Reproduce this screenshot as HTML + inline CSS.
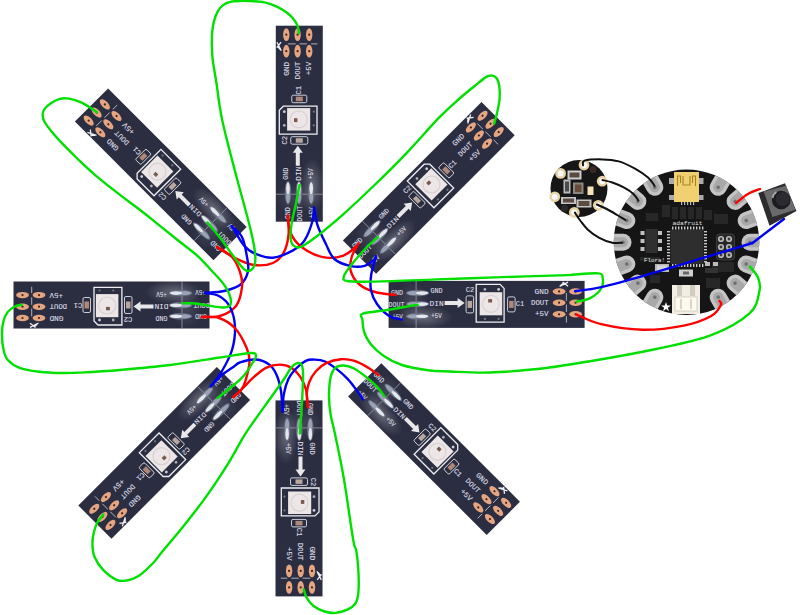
<!DOCTYPE html>
<html><head><meta charset="utf-8">
<style>
html,body{margin:0;padding:0;background:#fff;}
svg{display:block;}
</style></head>
<body>
<svg width="800" height="615" viewBox="0 0 800 615" font-family="Liberation Sans, sans-serif">
<defs>
<radialGradient id="glare">
<stop offset="0" stop-color="#ffffff" stop-opacity="0.28"/>
<stop offset="1" stop-color="#ffffff" stop-opacity="0"/>
</radialGradient>
<radialGradient id="glare2">
<stop offset="0" stop-color="#ffffff" stop-opacity="0.12"/>
<stop offset="1" stop-color="#ffffff" stop-opacity="0"/>
</radialGradient>
<g id="strip">
<rect x="-23.5" y="-98" width="47" height="196" fill="#2b2e41"/>
<ellipse cx="13" cy="62" rx="12" ry="28" fill="url(#glare)"/>
<ellipse cx="-4" cy="75" rx="20" ry="16" fill="url(#glare2)"/>
<ellipse cx="-13" cy="-89" rx="3.2" ry="6.4" fill="#e6a581"/>
<circle cx="-13" cy="-89" r="1.1" fill="#3a2420"/>
<ellipse cx="-13" cy="-72.5" rx="3.2" ry="6.4" fill="#e6a581"/>
<circle cx="-13" cy="-72.5" r="1.1" fill="#3a2420"/>
<ellipse cx="-1.7" cy="-89" rx="3.2" ry="6.4" fill="#e6a581"/>
<circle cx="-1.7" cy="-89" r="1.1" fill="#3a2420"/>
<ellipse cx="-1.7" cy="-72.5" rx="3.2" ry="6.4" fill="#e6a581"/>
<circle cx="-1.7" cy="-72.5" r="1.1" fill="#3a2420"/>
<ellipse cx="9.9" cy="-89" rx="3.2" ry="6.4" fill="#e6a581"/>
<circle cx="9.9" cy="-89" r="1.1" fill="#3a2420"/>
<ellipse cx="9.9" cy="-72.5" rx="3.2" ry="6.4" fill="#e6a581"/>
<circle cx="9.9" cy="-72.5" r="1.1" fill="#3a2420"/>
<path d="M-11.4,-79.8 H-3.6 M0.2,-79.8 H7.6 M11.8,-79.8 H18.2" stroke="#d0d0dc" stroke-width="0.8"/>
<path d="M-22.3,-81.5 L-18,-73 M-18.2,-81.5 L-22.5,-76 M-21.5,-77 l2.5,3" stroke="#f0f0f4" stroke-width="1.3" fill="none"/>
<text transform="translate(-12.8,-62) rotate(-90)" text-anchor="end" dominant-baseline="central" font-family="Liberation Mono, monospace" font-size="7.5" fill="#dcdce4" stroke="#dcdce4" stroke-width="0.12" textLength="14" lengthAdjust="spacingAndGlyphs">GND</text>
<text transform="translate(-1.3,-62) rotate(-90)" text-anchor="end" dominant-baseline="central" font-family="Liberation Mono, monospace" font-size="7.5" fill="#dcdce4" stroke="#dcdce4" stroke-width="0.12" textLength="17.5" lengthAdjust="spacingAndGlyphs">DOUT</text>
<text transform="translate(9.9,-62) rotate(-90)" text-anchor="end" dominant-baseline="central" font-family="Liberation Mono, monospace" font-size="7.5" fill="#dcdce4" stroke="#dcdce4" stroke-width="0.12" textLength="13.5" lengthAdjust="spacingAndGlyphs">+5V</text>
<text transform="translate(0,-33.5) rotate(-90)" text-anchor="middle" dominant-baseline="central" font-family="Liberation Mono, monospace" font-size="7" fill="#dcdce4" stroke="#dcdce4" stroke-width="0.12" textLength="8.5" lengthAdjust="spacingAndGlyphs">C1</text>
<rect x="-7.5" y="-28.5" width="15" height="7.5" rx="1.5" fill="none" stroke="#e0e0e6" stroke-width="0.9"/>
<rect x="-3.5" y="-27" width="7" height="4.5" fill="#b08878"/>
<path d="M-16,-17.5 H17.7 V10.4 H-20 V-13.5 Z" fill="none" stroke="#eeeef2" stroke-width="1.3"/>
<rect x="-12.2" y="-15.6" width="23.1" height="22.5" fill="#ece6e6"/>
<circle cx="-0.5" cy="-4.3" r="8.5" fill="none" stroke="#d8d0d4" stroke-width="1.2"/>
<rect x="-5.3" y="-5.5" width="3.4" height="3.9" fill="#7a5a50"/>
<circle cx="-15" cy="-12" r="1.4" fill="#d0d0d8"/><circle cx="-15" cy="1.7" r="1.4" fill="#b0b0b8"/>
<circle cx="14.5" cy="-12" r="1.1" fill="#777"/><circle cx="14.5" cy="1.7" r="1.1" fill="#777"/>
<text transform="translate(-14,16.5) rotate(-90)" text-anchor="middle" dominant-baseline="central" font-family="Liberation Mono, monospace" font-size="7" fill="#dcdce4" stroke="#dcdce4" stroke-width="0.12" textLength="8.5" lengthAdjust="spacingAndGlyphs">C2</text>
<rect x="-8.5" y="13" width="17" height="7.5" rx="1.5" fill="none" stroke="#e0e0e6" stroke-width="0.9"/>
<rect x="-3.5" y="14.5" width="7" height="4.5" fill="#b8a8a0"/>
<path d="M-1.5,22 L3.5,29 H0.5 V42 H-3.5 V29 H-6.5 Z" fill="#e8e8ea"/>
<text transform="translate(-13.3,50) rotate(-90)" text-anchor="middle" dominant-baseline="central" font-family="Liberation Mono, monospace" font-size="7" fill="#dcdce4" stroke="#dcdce4" stroke-width="0.12" textLength="12" lengthAdjust="spacingAndGlyphs">GND</text>
<text transform="translate(-0.8,50) rotate(-90)" text-anchor="middle" dominant-baseline="central" font-family="Liberation Mono, monospace" font-size="7" fill="#dcdce4" stroke="#dcdce4" stroke-width="0.12" textLength="14" lengthAdjust="spacingAndGlyphs">DIN</text>
<text transform="translate(11.4,50) rotate(-90)" text-anchor="middle" dominant-baseline="central" font-family="Liberation Mono, monospace" font-size="7" fill="#dcdce4" stroke="#dcdce4" stroke-width="0.12" textLength="10.5" lengthAdjust="spacingAndGlyphs">+5V</text>
<path d="M-23.5,70.5 H23.5" stroke="#9a9ca6" stroke-width="0.8"/>
<ellipse cx="-11.3" cy="69" rx="3.2" ry="11.8" fill="#6a7084"/>
<ellipse cx="-11.3" cy="73" rx="2.0" ry="6.5" fill="#9aa2b6"/>
<ellipse cx="-11.3" cy="64.5" rx="1.8" ry="6" fill="#e4e8ee"/>
<ellipse cx="-0.3" cy="69" rx="3.2" ry="11.8" fill="#6a7084"/>
<ellipse cx="-0.3" cy="73" rx="2.0" ry="6.5" fill="#9aa2b6"/>
<ellipse cx="-0.3" cy="64.5" rx="1.8" ry="6" fill="#e4e8ee"/>
<ellipse cx="11.9" cy="69" rx="3.2" ry="11.8" fill="#6a7084"/>
<ellipse cx="11.9" cy="73" rx="2.0" ry="6.5" fill="#9aa2b6"/>
<ellipse cx="11.9" cy="64.5" rx="1.8" ry="6" fill="#e4e8ee"/>
<text transform="translate(-11.3,89.5) rotate(-90)" text-anchor="middle" dominant-baseline="central" font-family="Liberation Mono, monospace" font-size="7.5" fill="#dcdce4" stroke="#dcdce4" stroke-width="0.12" textLength="12" lengthAdjust="spacingAndGlyphs">GND</text>
<text transform="translate(0.3,90) rotate(-90)" text-anchor="middle" dominant-baseline="central" font-family="Liberation Mono, monospace" font-size="7.5" fill="#dcdce4" stroke="#dcdce4" stroke-width="0.12" textLength="16" lengthAdjust="spacingAndGlyphs">DOUT</text>
<text transform="translate(13,89) rotate(-90)" text-anchor="middle" dominant-baseline="central" font-family="Liberation Mono, monospace" font-size="7.5" fill="#dcdce4" stroke="#dcdce4" stroke-width="0.12" textLength="10.5" lengthAdjust="spacingAndGlyphs">+5V</text>
</g>
</defs>
<rect width="800" height="615" fill="#ffffff"/>
<use href="#strip" transform="translate(299.3,123.7) rotate(0)"/>
<use href="#strip" transform="translate(160.8,174.3) rotate(-45)"/>
<use href="#strip" transform="translate(111.5,305.0) rotate(-90)"/>
<use href="#strip" transform="translate(164.2,452.8) rotate(-135)"/>
<use href="#strip" transform="translate(299.0,498.4) rotate(180)"/>
<use href="#strip" transform="translate(434.0,449.1) rotate(135)"/>
<use href="#strip" transform="translate(486.6,304.4) rotate(90)"/>
<use href="#strip" transform="translate(428.8,187.9) rotate(45)"/>
<circle cx="579" cy="188.5" r="28.5" fill="#161616"/>
<circle cx="593" cy="169.5" r="3.5" fill="#3a2a22"/><circle cx="564.5" cy="208" r="3.5" fill="#2a2a2a"/>
<circle cx="584" cy="165" r="5.4" fill="#e6d4a8"/><circle cx="584" cy="165" r="2.9" fill="#fff"/>
<circle cx="560.6" cy="173.4" r="5.4" fill="#e6d4a8"/><circle cx="560.6" cy="173.4" r="2.9" fill="#fff"/>
<circle cx="602.2" cy="181.2" r="5.4" fill="#e6d4a8"/><circle cx="602.2" cy="181.2" r="2.9" fill="#fff"/>
<circle cx="554.75" cy="196.8" r="5.4" fill="#e6d4a8"/><circle cx="554.75" cy="196.8" r="2.9" fill="#fff"/>
<circle cx="598.3" cy="205.3" r="5.4" fill="#e6d4a8"/><circle cx="598.3" cy="205.3" r="2.9" fill="#fff"/>
<circle cx="574.3" cy="212.4" r="5.4" fill="#e6d4a8"/><circle cx="574.3" cy="212.4" r="2.9" fill="#fff"/>
<rect x="567.5" y="170.5" width="14" height="9" fill="#cfcfcf"/><rect x="569.5" y="172.5" width="10" height="5" fill="#5a4a40"/>
<rect x="563.5" y="179.5" width="7" height="14" fill="#bbb"/><rect x="565" y="181.5" width="4" height="10" fill="#4a4a4a"/>
<rect x="573" y="182.5" width="10.5" height="11.5" fill="#8a8a80"/><rect x="575" y="184.5" width="6.5" height="7.5" fill="#6a4a38"/>
<rect x="587.5" y="186.5" width="6" height="8.5" fill="#f6e4b8"/>
<rect x="561" y="197" width="15" height="7" fill="#c4c4c4"/><rect x="563" y="198.5" width="11" height="4" fill="#5a4a40"/>
<rect x="576.5" y="199.5" width="15" height="8" fill="#c4c4c4"/><rect x="578.5" y="201" width="11" height="5" fill="#5a4a40"/>
<circle cx="686.5" cy="242.25" r="72.75" fill="#151515"/>
<g fill="#2a2a2a" opacity="0.9"><rect x="662" y="205" width="8" height="12"/><rect x="672" y="207" width="6" height="12"/><rect x="680" y="207" width="6" height="12"/><rect x="688" y="207" width="6" height="12"/><rect x="696" y="207" width="6" height="12"/><rect x="704" y="210" width="8" height="10"/><rect x="646" y="213" width="12" height="8"/><rect x="714" y="214" width="14" height="10"/><rect x="650" y="275" width="10" height="8"/><rect x="706" y="278" width="14" height="10"/><rect x="640" y="257" width="20" height="4"/><rect x="712" y="262" width="22" height="10"/></g>
<clipPath id="fclip"><circle cx="686.5" cy="242.25" r="72.75"/></clipPath>
<g clip-path="url(#fclip)">
<g transform="translate(750.0,242.2) rotate(0)"><rect x="-8.5" y="-8.5" width="30" height="17" rx="8.5" fill="#c4c4c4"/><rect x="-5" y="-5" width="26" height="10" rx="5" fill="#a8a8a8"/><circle cx="0" cy="0" r="1.8" fill="#707070"/></g>
<g transform="translate(746.2,264.0) rotate(20)"><rect x="-8.5" y="-8.5" width="30" height="17" rx="8.5" fill="#c4c4c4"/><rect x="-5" y="-5" width="26" height="10" rx="5" fill="#a8a8a8"/><circle cx="0" cy="0" r="1.8" fill="#707070"/></g>
<g transform="translate(735.1,283.1) rotate(40)"><rect x="-8.5" y="-8.5" width="30" height="17" rx="8.5" fill="#c4c4c4"/><rect x="-5" y="-5" width="26" height="10" rx="5" fill="#a8a8a8"/><circle cx="0" cy="0" r="1.8" fill="#707070"/></g>
<g transform="translate(718.2,297.2) rotate(60)"><rect x="-8.5" y="-8.5" width="30" height="17" rx="8.5" fill="#c4c4c4"/><rect x="-5" y="-5" width="26" height="10" rx="5" fill="#a8a8a8"/><circle cx="0" cy="0" r="1.8" fill="#707070"/></g>
<g transform="translate(746.2,220.5) rotate(-20)"><rect x="-8.5" y="-8.5" width="30" height="17" rx="8.5" fill="#c4c4c4"/><rect x="-5" y="-5" width="26" height="10" rx="5" fill="#a8a8a8"/><circle cx="0" cy="0" r="1.8" fill="#707070"/></g>
<g transform="translate(735.1,201.4) rotate(-40)"><rect x="-8.5" y="-8.5" width="30" height="17" rx="8.5" fill="#c4c4c4"/><rect x="-5" y="-5" width="26" height="10" rx="5" fill="#a8a8a8"/><circle cx="0" cy="0" r="1.8" fill="#707070"/></g>
<g transform="translate(718.2,187.3) rotate(-60)"><rect x="-8.5" y="-8.5" width="30" height="17" rx="8.5" fill="#c4c4c4"/><rect x="-5" y="-5" width="26" height="10" rx="5" fill="#a8a8a8"/><circle cx="0" cy="0" r="1.8" fill="#707070"/></g>
<g transform="translate(623.0,242.2) rotate(180)"><rect x="-8.5" y="-8.5" width="30" height="17" rx="8.5" fill="#c4c4c4"/><rect x="-5" y="-5" width="26" height="10" rx="5" fill="#a8a8a8"/><circle cx="0" cy="0" r="1.8" fill="#707070"/></g>
<g transform="translate(626.8,264.0) rotate(160)"><rect x="-8.5" y="-8.5" width="30" height="17" rx="8.5" fill="#c4c4c4"/><rect x="-5" y="-5" width="26" height="10" rx="5" fill="#a8a8a8"/><circle cx="0" cy="0" r="1.8" fill="#707070"/></g>
<g transform="translate(637.9,283.1) rotate(140)"><rect x="-8.5" y="-8.5" width="30" height="17" rx="8.5" fill="#c4c4c4"/><rect x="-5" y="-5" width="26" height="10" rx="5" fill="#a8a8a8"/><circle cx="0" cy="0" r="1.8" fill="#707070"/></g>
<g transform="translate(654.8,297.2) rotate(120)"><rect x="-8.5" y="-8.5" width="30" height="17" rx="8.5" fill="#c4c4c4"/><rect x="-5" y="-5" width="26" height="10" rx="5" fill="#a8a8a8"/><circle cx="0" cy="0" r="1.8" fill="#707070"/></g>
<g transform="translate(626.8,220.5) rotate(-160)"><rect x="-8.5" y="-8.5" width="30" height="17" rx="8.5" fill="#c4c4c4"/><rect x="-5" y="-5" width="26" height="10" rx="5" fill="#a8a8a8"/><circle cx="0" cy="0" r="1.8" fill="#707070"/></g>
<g transform="translate(637.9,201.4) rotate(-140)"><rect x="-8.5" y="-8.5" width="30" height="17" rx="8.5" fill="#c4c4c4"/><rect x="-5" y="-5" width="26" height="10" rx="5" fill="#a8a8a8"/><circle cx="0" cy="0" r="1.8" fill="#707070"/></g>
<g transform="translate(654.8,187.3) rotate(-120)"><rect x="-8.5" y="-8.5" width="30" height="17" rx="8.5" fill="#c4c4c4"/><rect x="-5" y="-5" width="26" height="10" rx="5" fill="#a8a8a8"/><circle cx="0" cy="0" r="1.8" fill="#707070"/></g>
</g>
<rect x="669" y="178" width="5" height="6" fill="#aaa"/><rect x="669" y="195" width="5" height="5" fill="#aaa"/><rect x="698.5" y="178" width="5" height="6" fill="#aaa"/><rect x="698.5" y="195" width="5" height="5" fill="#aaa"/>
<rect x="674" y="172" width="25" height="30" fill="#f0d070"/>
<path d="M677.5,186 V176 h3 v7 M683,176 v9 h7 v-9 M692.5,183 v-7 h3 v10" fill="none" stroke="#a88420" stroke-width="1.1"/>
<g fill="#bbb"><rect x="681" y="202" width="1.2" height="3"/><rect x="684" y="202" width="1.2" height="3"/><rect x="687" y="202" width="1.2" height="3"/><rect x="690" y="202" width="1.2" height="3"/><rect x="693" y="202" width="1.2" height="3"/></g>
<text x="672.5" y="225" font-size="6.2" fill="#e0e0e0" textLength="30" lengthAdjust="spacingAndGlyphs" font-family="Liberation Mono, monospace">adafruit</text>
<rect x="672.0" y="226.5" width="1.4" height="3" fill="#c8c8c8"/><rect x="672.0" y="264" width="1.4" height="3" fill="#c8c8c8"/><rect x="667" y="231.0" width="3" height="1.4" fill="#c8c8c8"/><rect x="704" y="231.0" width="3" height="1.4" fill="#c8c8c8"/><rect x="675.0" y="226.5" width="1.4" height="3" fill="#c8c8c8"/><rect x="675.0" y="264" width="1.4" height="3" fill="#c8c8c8"/><rect x="667" y="234.0" width="3" height="1.4" fill="#c8c8c8"/><rect x="704" y="234.0" width="3" height="1.4" fill="#c8c8c8"/><rect x="678.0" y="226.5" width="1.4" height="3" fill="#c8c8c8"/><rect x="678.0" y="264" width="1.4" height="3" fill="#c8c8c8"/><rect x="667" y="237.0" width="3" height="1.4" fill="#c8c8c8"/><rect x="704" y="237.0" width="3" height="1.4" fill="#c8c8c8"/><rect x="681.0" y="226.5" width="1.4" height="3" fill="#c8c8c8"/><rect x="681.0" y="264" width="1.4" height="3" fill="#c8c8c8"/><rect x="667" y="240.0" width="3" height="1.4" fill="#c8c8c8"/><rect x="704" y="240.0" width="3" height="1.4" fill="#c8c8c8"/><rect x="684.0" y="226.5" width="1.4" height="3" fill="#c8c8c8"/><rect x="684.0" y="264" width="1.4" height="3" fill="#c8c8c8"/><rect x="667" y="243.0" width="3" height="1.4" fill="#c8c8c8"/><rect x="704" y="243.0" width="3" height="1.4" fill="#c8c8c8"/><rect x="687.0" y="226.5" width="1.4" height="3" fill="#c8c8c8"/><rect x="687.0" y="264" width="1.4" height="3" fill="#c8c8c8"/><rect x="667" y="246.0" width="3" height="1.4" fill="#c8c8c8"/><rect x="704" y="246.0" width="3" height="1.4" fill="#c8c8c8"/><rect x="690.0" y="226.5" width="1.4" height="3" fill="#c8c8c8"/><rect x="690.0" y="264" width="1.4" height="3" fill="#c8c8c8"/><rect x="667" y="249.0" width="3" height="1.4" fill="#c8c8c8"/><rect x="704" y="249.0" width="3" height="1.4" fill="#c8c8c8"/><rect x="693.0" y="226.5" width="1.4" height="3" fill="#c8c8c8"/><rect x="693.0" y="264" width="1.4" height="3" fill="#c8c8c8"/><rect x="667" y="252.0" width="3" height="1.4" fill="#c8c8c8"/><rect x="704" y="252.0" width="3" height="1.4" fill="#c8c8c8"/><rect x="696.0" y="226.5" width="1.4" height="3" fill="#c8c8c8"/><rect x="696.0" y="264" width="1.4" height="3" fill="#c8c8c8"/><rect x="667" y="255.0" width="3" height="1.4" fill="#c8c8c8"/><rect x="704" y="255.0" width="3" height="1.4" fill="#c8c8c8"/><rect x="699.0" y="226.5" width="1.4" height="3" fill="#c8c8c8"/><rect x="699.0" y="264" width="1.4" height="3" fill="#c8c8c8"/><rect x="667" y="258.0" width="3" height="1.4" fill="#c8c8c8"/><rect x="704" y="258.0" width="3" height="1.4" fill="#c8c8c8"/><rect x="702.0" y="226.5" width="1.4" height="3" fill="#c8c8c8"/><rect x="702.0" y="264" width="1.4" height="3" fill="#c8c8c8"/><rect x="667" y="261.0" width="3" height="1.4" fill="#c8c8c8"/><rect x="704" y="261.0" width="3" height="1.4" fill="#c8c8c8"/>
<rect x="670.5" y="230" width="33" height="34" fill="#2e2e2e"/>
<rect x="645.5" y="229" width="12" height="24" fill="#303030"/><rect x="640.5" y="231" width="4" height="4" fill="#c0c0c0"/><rect x="640.5" y="239" width="4" height="4" fill="#c0c0c0"/><rect x="640.5" y="247" width="4" height="4" fill="#c0c0c0"/><rect x="658" y="231" width="4" height="4" fill="#c0c0c0"/><rect x="658" y="239" width="4" height="4" fill="#c0c0c0"/><rect x="658" y="247" width="4" height="4" fill="#c0c0c0"/>
<rect x="716.5" y="234" width="18" height="26" rx="3" fill="#262626" stroke="#444" stroke-width="0.8"/>
<circle cx="721" cy="239" r="3.1" fill="#b8b8b8"/><circle cx="721" cy="239" r="1.4" fill="#3a3a3a"/>
<circle cx="721" cy="247" r="3.1" fill="#b8b8b8"/><circle cx="721" cy="247" r="1.4" fill="#3a3a3a"/>
<circle cx="721" cy="255" r="3.1" fill="#b8b8b8"/><circle cx="721" cy="255" r="1.4" fill="#3a3a3a"/>
<circle cx="729" cy="239" r="3.1" fill="#b8b8b8"/><circle cx="729" cy="239" r="1.4" fill="#3a3a3a"/>
<circle cx="729" cy="247" r="3.1" fill="#b8b8b8"/><circle cx="729" cy="247" r="1.4" fill="#3a3a3a"/>
<circle cx="729" cy="255" r="3.1" fill="#b8b8b8"/><circle cx="729" cy="255" r="1.4" fill="#3a3a3a"/>
<text x="644" y="262" font-size="6" fill="#e0e0e0" font-family="Liberation Mono, monospace" textLength="21" lengthAdjust="spacingAndGlyphs">Flora!</text>
<rect x="655" y="264" width="14" height="8" fill="#b8b8b8"/><rect x="657" y="265.5" width="10" height="5" fill="#d8d8d8"/>
<rect x="679" y="269.5" width="14" height="7" fill="#cfcfcf"/><rect x="683" y="271.5" width="6" height="3" fill="#666"/>
<rect x="705" y="262" width="5" height="4" fill="#bbb"/><rect x="713" y="262" width="5" height="4" fill="#bbb"/><rect x="705" y="268" width="13" height="5" fill="#333"/>
<rect x="672" y="285" width="28" height="29" fill="#f2eee4"/><rect x="677" y="285" width="5" height="11" fill="#d0ccc0"/><rect x="690" y="285" width="5" height="11" fill="#d0ccc0"/><rect x="675" y="297" width="22" height="14" fill="#fffaf0" stroke="#cfc8b8" stroke-width="0.8"/><rect x="680" y="299" width="2" height="10" fill="#ddd6c6"/><rect x="690" y="299" width="2" height="10" fill="#ddd6c6"/>
<path d="M666,302 l1.2,3.5 h3.7 l-3,2.2 1.1,3.6 -3,-2.2 -3,2.2 1.1,-3.6 -3,-2.2 h3.7 z" fill="#fff"/>
<path d="M758.3,193 L785,183.3 L796.4,211 L769.5,225.8 Z" fill="#2c2c2e"/><path d="M763.7,191.6 L786,185.7 L795.4,209.7 L772.5,217 Z" fill="#6a6a6c"/><circle cx="781.2" cy="200" r="9.3" fill="#1c1c20"/><circle cx="782.5" cy="199" r="7" fill="#2a2a30"/><path d="M772.5,198 a9,9 0 0,1 4,-6" stroke="#aaa" stroke-width="1.5" fill="none"/>
<path d="M217.0,247.0 C220.0,248.8 228.9,255.0 235.0,258.0 C241.1,261.0 247.4,264.2 253.7,265.0 C260.0,265.8 267.9,265.2 273.0,263.0 C278.1,260.8 281.4,256.7 284.0,252.0 C286.6,247.3 287.8,241.0 288.5,235.0 C289.2,229.0 288.1,219.2 288.0,216.0" fill="none" stroke="#ff0000" stroke-width="2.4" stroke-linecap="round" stroke-linejoin="round"/>
<path d="M231.7,226.0 C233.8,229.2 240.1,240.9 244.0,245.5 C247.9,250.1 250.2,251.7 255.0,253.7 C259.8,255.7 266.7,258.2 273.0,257.7 C279.3,257.1 287.8,253.2 293.0,250.4 C298.2,247.6 301.1,245.6 304.4,240.7 C307.6,235.8 310.9,226.6 312.5,221.0 C314.1,215.4 313.8,209.6 314.0,207.3" fill="none" stroke="#0000f0" stroke-width="2.4" stroke-linecap="round" stroke-linejoin="round"/>
<path d="M231.7,226.0 C233.4,227.8 239.4,231.8 242.0,237.0 C244.6,242.2 246.0,251.2 247.0,257.0 C248.0,262.8 249.1,266.9 248.0,271.5 C246.9,276.1 244.6,281.2 240.6,284.5 C236.6,287.8 229.9,289.6 224.0,291.0 C218.1,292.4 208.2,292.5 205.0,292.8" fill="none" stroke="#0000f0" stroke-width="2.4" stroke-linecap="round" stroke-linejoin="round"/>
<path d="M217.0,247.0 C219.5,248.7 228.2,252.8 232.0,257.0 C235.8,261.2 238.3,267.0 240.0,272.0 C241.7,277.0 242.7,281.3 242.0,287.0 C241.3,292.7 239.7,301.2 236.0,306.0 C232.3,310.8 225.7,314.2 220.0,316.0 C214.3,317.8 205.0,316.8 202.0,317.0" fill="none" stroke="#ff0000" stroke-width="2.4" stroke-linecap="round" stroke-linejoin="round"/>
<path d="M205.0,293.0 C207.3,293.5 214.8,293.7 219.0,296.0 C223.2,298.3 227.3,301.8 230.0,307.0 C232.7,312.2 234.7,319.8 235.0,327.0 C235.3,334.2 234.2,342.7 232.0,350.0 C229.8,357.3 225.5,365.0 222.0,371.0 C218.5,377.0 212.8,383.5 211.0,386.0" fill="none" stroke="#0000f0" stroke-width="2.4" stroke-linecap="round" stroke-linejoin="round"/>
<path d="M202.0,317.0 C204.8,317.2 213.4,316.1 219.0,318.0 C224.6,319.9 230.7,323.5 235.3,328.5 C239.9,333.5 244.3,342.5 246.7,348.0 C249.1,353.5 249.6,356.5 249.5,361.7 C249.4,366.9 247.2,374.7 245.9,379.3 C244.6,383.9 243.6,386.6 241.5,389.5 C239.4,392.4 234.7,395.8 233.3,397.0" fill="none" stroke="#ff0000" stroke-width="2.4" stroke-linecap="round" stroke-linejoin="round"/>
<path d="M210.6,386.3 C212.5,384.4 218.3,378.1 222.0,375.0 C225.7,371.9 229.5,369.7 232.5,367.6 C235.5,365.5 236.1,363.8 240.0,362.4 C243.9,361.0 251.2,359.1 256.1,359.5 C261.0,359.9 265.9,362.0 269.3,364.6 C272.7,367.2 274.7,370.5 276.6,374.9 C278.6,379.3 280.0,384.9 281.0,391.0 C282.0,397.1 282.2,408.1 282.5,411.5" fill="none" stroke="#0000f0" stroke-width="2.4" stroke-linecap="round" stroke-linejoin="round"/>
<path d="M233.3,397.0 C234.7,395.8 237.9,392.9 241.5,389.5 C245.1,386.1 250.4,380.0 254.6,376.4 C258.8,372.8 262.2,369.6 266.4,367.6 C270.5,365.6 275.4,364.6 279.5,364.6 C283.6,364.6 287.8,365.6 291.2,367.6 C294.6,369.6 297.6,372.8 300.0,376.4 C302.4,380.0 304.6,384.4 305.9,389.5 C307.2,394.6 307.6,404.1 308.0,407.0" fill="none" stroke="#ff0000" stroke-width="2.4" stroke-linecap="round" stroke-linejoin="round"/>
<path d="M282.5,411.5 C282.7,408.6 282.9,399.3 283.9,393.9 C284.9,388.5 286.4,383.4 288.3,379.3 C290.2,375.2 292.7,372.1 295.6,369.0 C298.5,365.9 302.5,362.5 305.7,360.9 C308.9,359.3 311.6,359.5 314.8,359.6 C318.0,359.7 321.4,359.9 325.0,361.5 C328.6,363.1 332.6,366.0 336.4,368.9 C340.2,371.8 344.4,375.5 347.8,379.1 C351.2,382.7 354.3,387.1 356.9,390.5 C359.4,393.9 362.1,398.1 363.1,399.6" fill="none" stroke="#0000f0" stroke-width="2.4" stroke-linecap="round" stroke-linejoin="round"/>
<path d="M308.0,407.6 C307.8,405.3 306.6,398.1 306.8,393.9 C307.0,389.7 307.6,386.3 309.1,382.5 C310.6,378.7 313.0,374.4 315.9,371.2 C318.8,368.0 322.0,365.2 326.2,363.2 C330.4,361.2 336.3,359.6 341.0,359.2 C345.7,358.8 350.1,359.5 354.6,360.9 C359.2,362.3 364.3,365.4 368.3,367.8 C372.3,370.2 376.8,373.9 378.5,375.1" fill="none" stroke="#ff0000" stroke-width="2.4" stroke-linecap="round" stroke-linejoin="round"/>
<path d="M358.5,243.4 C357.4,245.7 353.0,252.4 351.7,257.0 C350.4,261.6 349.4,266.2 350.7,270.8 C352.0,275.4 355.4,281.0 359.5,284.5 C363.6,288.0 369.0,290.2 375.0,292.0 C381.0,293.8 392.2,294.5 395.7,295.0" fill="none" stroke="#ff0000" stroke-width="2.4" stroke-linecap="round" stroke-linejoin="round"/>
<path d="M376.0,256.0 C375.2,259.1 372.1,269.0 371.2,274.7 C370.4,280.4 370.0,285.4 371.0,290.3 C372.0,295.2 374.0,299.8 377.0,304.0 C380.0,308.2 384.7,313.1 388.8,315.7 C392.9,318.3 399.4,319.0 401.5,319.6" fill="none" stroke="#0000f0" stroke-width="2.4" stroke-linecap="round" stroke-linejoin="round"/>
<path d="M288.0,215.4 C288.3,218.1 287.9,226.3 290.0,231.5 C292.1,236.7 295.3,242.1 300.6,246.3 C305.9,250.5 314.6,255.3 321.7,256.9 C328.8,258.5 336.9,257.8 342.9,255.8 C348.9,253.9 355.2,247.0 357.7,245.2" fill="none" stroke="#ff0000" stroke-width="2.4" stroke-linecap="round" stroke-linejoin="round"/>
<path d="M314.3,208.2 C314.8,211.0 315.6,219.2 317.5,225.2 C319.4,231.2 323.2,238.6 326.0,244.2 C328.8,249.8 330.4,255.4 334.4,259.0 C338.4,262.6 345.0,264.8 350.0,265.9 C355.0,267.0 360.3,267.1 364.6,265.9 C368.9,264.7 374.1,259.7 376.0,258.5" fill="none" stroke="#0000f0" stroke-width="2.4" stroke-linecap="round" stroke-linejoin="round"/>
<path d="M298.8,33.0 C298.6,31.9 298.6,28.6 297.8,26.3 C297.0,24.1 295.7,21.8 293.9,19.5 C292.1,17.2 289.8,14.8 287.0,12.7 C284.2,10.6 281.0,8.5 277.3,6.8 C273.6,5.1 269.2,3.4 264.6,2.4 C260.1,1.4 254.3,1.2 250.0,1.0 C245.7,0.8 242.3,0.8 239.0,1.0 C235.7,1.1 232.8,1.2 230.2,1.9 C227.6,2.5 225.5,3.3 223.4,4.9 C221.3,6.5 219.2,8.8 217.6,11.7 C216.0,14.6 214.6,19.0 213.7,22.4 C212.8,25.8 212.5,28.6 212.2,32.2 C211.9,35.8 211.7,39.5 211.8,44.0 C211.9,48.5 211.9,53.2 212.7,59.5 C213.4,65.8 214.7,71.9 216.3,82.0 C217.9,92.1 218.9,104.5 222.2,120.0 C225.5,135.5 231.2,156.7 236.0,175.0 C240.8,193.3 247.5,216.5 250.7,230.0 C253.9,243.5 254.9,249.7 255.3,256.0 C255.7,262.3 254.7,265.7 253.0,268.0 C251.3,270.3 248.4,272.2 245.0,270.0 C241.6,267.8 236.5,260.2 232.5,255.0 C228.5,249.8 225.2,244.4 221.0,239.0 C216.8,233.6 209.8,225.2 207.5,222.5" fill="none" stroke="#00e000" stroke-width="2.4" stroke-linecap="round" stroke-linejoin="round"/>
<path d="M97.0,112.3 C95.8,111.5 92.3,108.9 89.6,107.2 C86.8,105.5 83.9,103.5 80.5,102.1 C77.1,100.7 72.5,99.1 69.1,98.6 C65.7,98.1 63.0,98.1 60.0,98.9 C57.0,99.7 53.5,101.5 50.9,103.2 C48.3,104.9 46.0,107.0 44.6,108.9 C43.2,110.8 42.6,112.4 42.6,114.6 C42.6,116.8 43.0,119.1 44.6,122.0 C46.2,124.9 48.9,128.2 52.0,132.0 C55.1,135.8 59.1,140.2 63.4,144.7 C67.7,149.2 72.5,154.0 77.7,159.0 C82.9,164.0 87.5,168.6 94.6,174.6 C101.6,180.6 112.5,189.1 120.0,194.9 C127.5,200.7 133.0,204.5 139.5,209.5 C146.0,214.5 152.5,219.9 159.0,225.1 C165.5,230.3 172.0,235.5 178.5,240.7 C185.0,245.9 192.6,251.4 198.0,256.3 C203.4,261.2 206.7,265.3 211.0,270.0 C215.3,274.7 220.8,280.0 224.0,284.6 C227.2,289.2 229.5,294.0 230.4,297.6 C231.3,301.2 231.2,304.4 229.6,306.0 C228.0,307.6 226.2,307.8 220.6,307.4 C215.0,307.0 202.4,304.2 196.0,303.5 C189.6,302.8 184.7,303.4 182.4,303.4" fill="none" stroke="#00e000" stroke-width="2.4" stroke-linecap="round" stroke-linejoin="round"/>
<path d="M21.5,304.8 C20.3,305.1 16.6,305.5 14.3,306.7 C12.0,307.9 9.6,309.5 7.8,311.9 C6.0,314.3 4.5,317.3 3.5,321.0 C2.5,324.7 2.0,329.2 2.0,334.0 C2.0,338.8 2.5,345.3 3.5,349.6 C4.5,353.9 5.1,357.0 7.8,360.0 C10.5,363.0 14.3,365.9 19.5,367.8 C24.7,369.8 31.9,370.8 39.0,371.7 C46.1,372.6 55.6,372.9 62.4,373.0 C69.2,373.1 70.4,373.1 80.0,372.6 C89.6,372.1 105.0,371.3 120.0,370.0 C135.0,368.7 153.3,367.1 170.0,365.0 C186.7,362.9 206.7,359.5 220.0,357.5 C233.3,355.5 244.0,353.3 250.0,353.0 C256.0,352.7 255.6,353.8 256.0,355.5 C256.4,357.2 254.4,359.8 252.5,363.0 C250.6,366.2 247.3,371.4 244.4,374.9 C241.5,378.4 239.5,380.1 235.0,384.0 C230.5,387.9 220.4,395.7 217.5,398.0" fill="none" stroke="#00e000" stroke-width="2.4" stroke-linecap="round" stroke-linejoin="round"/>
<path d="M103.4,514.6 C102.4,515.8 99.2,519.1 97.6,522.0 C96.0,524.9 94.8,528.6 93.9,532.2 C93.0,535.9 92.3,539.8 92.4,543.9 C92.5,548.0 92.8,552.6 94.6,557.0 C96.4,561.4 99.7,566.4 103.4,570.2 C107.1,574.0 112.7,578.1 116.6,579.8 C120.5,581.5 123.1,581.1 126.8,580.5 C130.4,579.9 134.1,579.0 138.5,576.1 C142.9,573.2 149.6,566.6 153.2,563.0 C156.8,559.4 155.1,560.4 160.0,554.4 C164.9,548.4 175.2,536.5 182.8,527.0 C190.4,517.5 198.0,508.0 205.6,497.4 C213.2,486.8 222.1,473.2 228.3,463.3 C234.5,453.4 238.5,445.0 242.9,437.8 C247.3,430.6 250.2,426.6 254.6,420.3 C259.0,414.0 264.4,406.6 269.3,399.8 C274.2,393.0 280.2,384.7 283.9,379.3 C287.5,373.9 289.0,370.3 291.2,367.6 C293.4,364.9 295.4,363.7 297.1,363.2 C298.8,362.7 300.5,363.1 301.5,364.6 C302.5,366.1 302.8,367.8 303.0,372.0 C303.2,376.2 302.9,383.7 302.6,390.0 C302.4,396.3 302.0,402.8 301.5,410.0 C301.0,417.2 300.1,429.6 299.8,433.5" fill="none" stroke="#00e000" stroke-width="2.4" stroke-linecap="round" stroke-linejoin="round"/>
<path d="M303.8,589.4 C304.3,590.8 305.0,594.9 306.6,597.7 C308.2,600.5 310.5,603.7 313.5,606.0 C316.5,608.3 320.8,610.4 324.5,611.5 C328.2,612.6 331.7,613.2 335.6,612.9 C339.5,612.5 344.7,611.0 348.0,609.4 C351.3,607.8 353.9,606.1 355.6,603.2 C357.3,600.3 357.9,597.5 358.4,592.2 C358.9,586.9 358.8,578.3 358.4,571.4 C358.0,564.5 357.2,556.0 356.3,550.7 C355.4,545.4 355.2,551.7 353.2,539.8 C351.1,527.9 347.0,497.1 344.0,479.5 C341.0,461.9 337.2,444.8 335.0,434.0 C332.8,423.2 331.7,421.3 330.7,415.0 C329.7,408.7 329.0,402.6 329.0,396.2 C329.0,389.8 329.6,381.6 330.7,376.9 C331.8,372.2 333.2,369.7 335.3,367.8 C337.4,365.9 340.2,365.4 343.2,365.5 C346.2,365.6 349.7,366.4 353.5,368.3 C357.3,370.2 362.0,373.8 366.0,376.9 C370.0,380.0 374.4,383.9 377.4,387.1 C380.4,390.3 383.1,394.7 384.2,396.2" fill="none" stroke="#00e000" stroke-width="2.4" stroke-linecap="round" stroke-linejoin="round"/>
<path d="M299.5,185.0 C299.0,187.8 297.5,195.9 296.3,201.9 C295.1,207.9 293.1,215.2 292.1,220.9 C291.1,226.6 290.4,232.0 290.5,236.0 C290.6,240.0 291.3,243.2 293.0,245.0 C294.7,246.8 296.5,248.6 300.6,247.0 C304.7,245.4 310.4,241.1 317.5,235.7 C324.6,230.3 333.4,223.0 342.9,214.6 C352.4,206.2 364.0,195.2 374.6,185.0 C385.2,174.8 395.5,164.6 406.3,153.3 C417.1,142.0 430.7,126.2 439.5,117.2 C448.3,108.2 453.1,104.2 459.0,99.0 C464.9,93.8 470.1,89.7 474.6,86.0 C479.2,82.3 483.4,78.6 486.3,76.9 C489.2,75.2 490.5,75.4 492.2,75.6 C493.9,75.8 495.5,76.5 496.7,78.2 C497.9,79.9 498.8,82.5 499.3,86.0 C499.8,89.5 500.0,94.2 499.6,99.0 C499.2,103.8 497.6,110.5 496.7,114.6 C495.8,118.7 494.5,122.2 494.1,123.7" fill="none" stroke="#00e000" stroke-width="2.4" stroke-linecap="round" stroke-linejoin="round"/>
<path d="M576.5,301.7 C578.8,301.1 586.1,300.3 590.2,298.1 C594.4,295.9 599.2,291.9 601.2,288.5 C603.3,285.1 603.1,280.0 602.6,277.5 C602.1,275.0 603.3,273.9 598.5,273.4 C593.7,272.9 578.9,274.2 573.8,274.5 C568.6,274.8 579.4,274.7 567.5,275.1 C555.6,275.5 524.2,276.4 502.5,277.1 C480.8,277.8 459.2,278.6 437.5,279.4 C415.8,280.1 387.6,281.3 372.5,281.6 C357.4,281.9 351.8,281.9 347.0,281.0 C342.2,280.1 343.2,278.8 344.0,276.0 C344.8,273.2 348.2,268.8 352.0,264.0 C355.8,259.2 362.7,251.5 367.0,247.0 C371.3,242.5 376.2,238.7 378.0,237.0" fill="none" stroke="#00e000" stroke-width="2.4" stroke-linecap="round" stroke-linejoin="round"/>
<path d="M417.6,304.6 C412.8,305.5 398.1,308.2 389.0,309.8 C379.9,311.3 367.4,312.0 363.0,313.6 C358.6,315.3 362.1,316.4 362.4,319.5 C362.6,322.6 362.9,328.4 364.3,332.5 C365.7,336.6 367.6,340.3 370.8,344.2 C374.1,348.1 378.6,352.4 383.8,355.9 C389.0,359.4 394.6,362.6 402.0,365.0 C409.4,367.4 420.0,369.1 428.0,370.2 C436.0,371.3 439.7,371.1 450.0,371.5 C460.3,371.9 475.0,373.0 490.0,372.5 C505.0,372.0 523.3,370.6 540.0,368.8 C556.7,366.9 570.6,364.5 590.0,361.2 C609.4,358.0 636.0,353.3 656.2,349.0 C676.5,344.7 695.7,341.2 711.2,335.2 C726.8,329.3 741.7,320.6 749.8,313.2 C757.8,305.9 758.0,297.2 759.4,291.2 C760.8,285.3 759.6,281.6 758.0,277.5 C756.4,273.4 751.1,268.3 749.8,266.5" fill="none" stroke="#00e000" stroke-width="2.4" stroke-linecap="round" stroke-linejoin="round"/>
<path d="M575.1,291.2 C579.5,290.6 590.0,289.6 601.2,287.1 C612.5,284.6 628.8,280.0 642.5,276.1 C656.2,272.2 670.0,267.9 683.8,263.8 C697.5,259.6 713.5,254.9 725.0,251.4 C736.5,247.9 747.9,244.4 752.5,243.0" fill="none" stroke="#0000f0" stroke-width="2.4" stroke-linecap="round" stroke-linejoin="round"/>
<path d="M752.5,243.0 L784.0,219.0" fill="none" stroke="#0000f0" stroke-width="2.4" stroke-linecap="round" stroke-linejoin="round"/>
<path d="M576.5,314.6 C580.6,316.2 590.2,321.7 601.2,324.2 C612.2,326.8 628.8,329.5 642.5,329.8 C656.2,330.0 672.3,327.9 683.8,325.6 C695.2,323.3 705.1,319.4 711.2,316.0 C717.4,312.6 719.5,307.5 720.9,305.0 C722.3,302.5 719.7,301.6 719.5,300.9" fill="none" stroke="#ff0000" stroke-width="2.4" stroke-linecap="round" stroke-linejoin="round"/>
<path d="M736.0,203.0 C738.0,201.5 744.0,196.3 748.0,194.0 C752.0,191.7 758.0,189.8 760.0,189.0" fill="none" stroke="#ff0000" stroke-width="2.4" stroke-linecap="round" stroke-linejoin="round"/>
<path d="M583.0,165.4 C583.3,164.6 581.4,161.6 584.6,160.6 C587.9,159.6 596.8,159.3 602.5,159.4 C608.2,159.5 613.4,159.9 618.8,161.4 C624.2,162.9 630.1,166.0 635.0,168.7 C639.9,171.4 644.7,174.8 648.0,177.6 C651.3,180.4 653.5,184.4 654.6,185.8" fill="none" stroke="#111111" stroke-width="2.0" stroke-linecap="round" stroke-linejoin="round"/>
<path d="M602.5,180.0 C604.1,180.4 608.8,181.3 612.3,182.5 C615.8,183.7 620.2,185.5 623.7,187.4 C627.2,189.3 631.0,191.7 633.4,193.9 C635.8,196.1 637.5,199.3 638.3,200.4" fill="none" stroke="#111111" stroke-width="2.0" stroke-linecap="round" stroke-linejoin="round"/>
<path d="M596.8,204.5 C598.3,205.2 602.4,206.8 605.8,208.5 C609.2,210.2 614.0,213.1 617.2,215.0 C620.5,216.9 623.9,219.2 625.3,220.0" fill="none" stroke="#111111" stroke-width="2.0" stroke-linecap="round" stroke-linejoin="round"/>
<path d="M574.9,212.6 C575.7,213.8 577.6,217.2 579.8,220.0 C582.0,222.8 584.6,226.7 587.9,229.7 C591.1,232.7 595.2,235.6 599.3,237.8 C603.4,240.0 608.5,241.9 612.3,242.7 C616.1,243.5 620.4,242.7 622.0,242.7" fill="none" stroke="#111111" stroke-width="2.0" stroke-linecap="round" stroke-linejoin="round"/>
</svg>
</body></html>
